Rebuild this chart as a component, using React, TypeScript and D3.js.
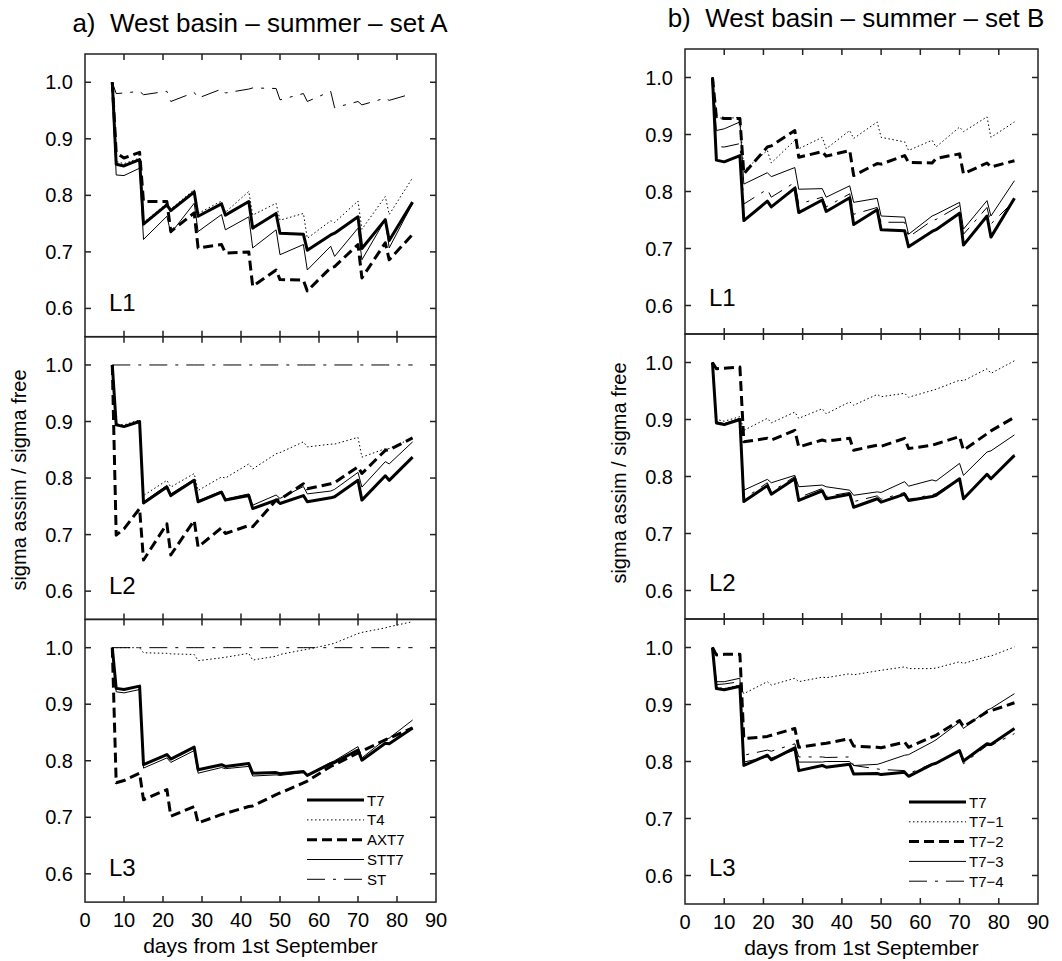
import React from "react";
import * as d3 from "d3";

// ---------------- DATA ----------------
const DAYS = [7, 8, 10, 14, 15, 21, 22, 28, 29, 35, 36, 42, 43, 49, 50, 56, 57, 63, 64, 70, 71, 77, 78, 84];
const X_TICKS = [0, 10, 20, 30, 40, 50, 60, 70, 80, 90];
const Y_TICKS = [0.6, 0.7, 0.8, 0.9, 1.0];
const LEVELS = ["L1", "L2", "L3"];

// shared reference run (T7) for each level
const T7_L1 = [1.0, 0.855, 0.852, 0.863, 0.749, 0.783, 0.773, 0.806, 0.763, 0.785, 0.765, 0.789, 0.742, 0.768, 0.733, 0.731, 0.703, 0.73, 0.733, 0.762, 0.706, 0.757, 0.72, 0.788];
const T7_L2 = [1.0, 0.894, 0.891, 0.9, 0.756, 0.784, 0.769, 0.796, 0.758, 0.775, 0.761, 0.769, 0.746, 0.761, 0.755, 0.769, 0.758, 0.765, 0.767, 0.796, 0.761, 0.804, 0.796, 0.837];
const T7_L3 = [1.0, 0.928, 0.926, 0.932, 0.793, 0.811, 0.803, 0.824, 0.784, 0.793, 0.79, 0.795, 0.778, 0.779, 0.777, 0.781, 0.774, 0.795, 0.797, 0.819, 0.801, 0.831, 0.83, 0.858];

// set A
const T4_L1 = [1.0, 0.86, 0.856, 0.866, 0.752, 0.786, 0.776, 0.81, 0.768, 0.79, 0.77, 0.807, 0.765, 0.786, 0.756, 0.768, 0.724, 0.755, 0.752, 0.79, 0.74, 0.798, 0.766, 0.831];
const T4_L2 = [1.0, 0.896, 0.894, 0.903, 0.769, 0.796, 0.784, 0.808, 0.778, 0.802, 0.8, 0.825, 0.816, 0.843, 0.845, 0.864, 0.855, 0.86, 0.86, 0.872, 0.837, 0.852, 0.852, 0.871];
const T4_L3 = [1.0, 1.0, 1.0, 1.0, 0.991, 0.99, 0.989, 0.988, 0.977, 0.982, 0.983, 0.99, 0.978, 0.985, 0.988, 0.996, 0.997, 1.006, 1.008, 1.025, 1.027, 1.035, 1.037, 1.046];
const AXT7_L1 = [1.0, 0.875, 0.866, 0.876, 0.789, 0.789, 0.736, 0.769, 0.707, 0.713, 0.698, 0.7, 0.639, 0.668, 0.651, 0.65, 0.631, 0.672, 0.674, 0.713, 0.654, 0.716, 0.686, 0.731];
const AXT7_L2 = [1.0, 0.699, 0.71, 0.746, 0.655, 0.719, 0.664, 0.725, 0.678, 0.712, 0.702, 0.716, 0.714, 0.761, 0.762, 0.79, 0.781, 0.79, 0.792, 0.82, 0.808, 0.849, 0.85, 0.871];
const AXT7_L3 = [1.0, 0.761, 0.765, 0.778, 0.731, 0.749, 0.702, 0.719, 0.69, 0.705, 0.707, 0.719, 0.72, 0.74, 0.743, 0.761, 0.764, 0.79, 0.793, 0.814, 0.817, 0.837, 0.84, 0.858];
const STT7_L1 = [1.0, 0.836, 0.835, 0.848, 0.722, 0.763, 0.733, 0.786, 0.736, 0.766, 0.739, 0.762, 0.707, 0.739, 0.695, 0.713, 0.668, 0.71, 0.692, 0.742, 0.686, 0.757, 0.707, 0.786];
const STT7_L2 = [1.0, 0.895, 0.892, 0.901, 0.758, 0.787, 0.772, 0.798, 0.76, 0.777, 0.763, 0.772, 0.752, 0.77, 0.764, 0.785, 0.772, 0.777, 0.78, 0.81, 0.784, 0.829, 0.825, 0.864];
const STT7_L3 = [1.0, 0.922, 0.92, 0.926, 0.787, 0.805, 0.797, 0.818, 0.778, 0.788, 0.786, 0.79, 0.773, 0.775, 0.774, 0.779, 0.775, 0.797, 0.8, 0.825, 0.805, 0.838, 0.84, 0.872];
const ST_L1 = [1.0, 0.98, 0.981, 0.984, 0.978, 0.984, 0.966, 0.982, 0.972, 0.988, 0.981, 0.988, 0.99, 0.989, 0.969, 0.98, 0.966, 0.984, 0.955, 0.966, 0.96, 0.972, 0.968, 0.98];
const ST_L2 = [1.0, 1.0, 1.0, 1.0, 1.0, 1.0, 1.0, 1.0, 1.0, 1.0, 1.0, 1.0, 1.0, 1.0, 1.0, 1.0, 1.0, 1.0, 1.0, 1.0, 1.0, 1.0, 1.0, 1.0];
const ST_L3 = [1.0, 1.0, 1.0, 1.0, 1.0, 1.0, 1.0, 1.0, 1.0, 1.0, 1.0, 1.0, 1.0, 1.0, 1.0, 1.0, 1.0, 1.0, 1.0, 1.0, 1.0, 1.0, 1.0, 1.0];

// set B
const T71_L1 = [1.0, 0.93, 0.928, 0.93, 0.837, 0.872, 0.85, 0.89, 0.875, 0.895, 0.875, 0.907, 0.893, 0.922, 0.895, 0.887, 0.872, 0.89, 0.878, 0.913, 0.905, 0.931, 0.895, 0.922];
const T71_L2 = [1.0, 0.9, 0.897, 0.905, 0.881, 0.902, 0.894, 0.913, 0.902, 0.919, 0.91, 0.931, 0.925, 0.944, 0.94, 0.946, 0.939, 0.951, 0.953, 0.969, 0.968, 0.989, 0.981, 1.003];
const T71_L3 = [1.0, 0.93, 0.928, 0.934, 0.919, 0.94, 0.934, 0.946, 0.94, 0.948, 0.947, 0.954, 0.952, 0.959, 0.96, 0.966, 0.963, 0.963, 0.964, 0.975, 0.972, 0.984, 0.985, 1.001];
const T72_L1 = [1.0, 0.931, 0.928, 0.928, 0.831, 0.878, 0.88, 0.907, 0.86, 0.87, 0.862, 0.872, 0.828, 0.849, 0.848, 0.863, 0.851, 0.85, 0.858, 0.866, 0.831, 0.85, 0.843, 0.854];
const T72_L2 = [1.0, 0.989, 0.99, 0.992, 0.861, 0.867, 0.864, 0.881, 0.852, 0.864, 0.862, 0.867, 0.846, 0.855, 0.853, 0.867, 0.849, 0.855, 0.857, 0.87, 0.846, 0.875, 0.88, 0.904];
const T72_L3 = [1.0, 0.987, 0.988, 0.988, 0.84, 0.844, 0.846, 0.858, 0.825, 0.831, 0.832, 0.84, 0.827, 0.825, 0.824, 0.834, 0.825, 0.843, 0.846, 0.872, 0.861, 0.887, 0.889, 0.903];
const T73_L1 = [1.0, 0.907, 0.91, 0.922, 0.813, 0.833, 0.826, 0.842, 0.804, 0.805, 0.79, 0.81, 0.781, 0.788, 0.757, 0.755, 0.725, 0.757, 0.76, 0.781, 0.734, 0.784, 0.757, 0.819];
const T73_L2 = [1.0, 0.896, 0.893, 0.902, 0.776, 0.795, 0.789, 0.802, 0.782, 0.785, 0.782, 0.776, 0.767, 0.773, 0.772, 0.791, 0.783, 0.794, 0.792, 0.823, 0.802, 0.843, 0.845, 0.873];
const T73_L3 = [1.0, 0.94, 0.94, 0.946, 0.799, 0.808, 0.806, 0.82, 0.799, 0.799, 0.8, 0.8, 0.793, 0.795, 0.797, 0.811, 0.812, 0.834, 0.838, 0.869, 0.858, 0.89, 0.893, 0.919];
const T74_L1 = [1.0, 0.879, 0.878, 0.884, 0.778, 0.804, 0.79, 0.816, 0.778, 0.79, 0.773, 0.796, 0.76, 0.772, 0.746, 0.746, 0.72, 0.749, 0.751, 0.775, 0.725, 0.772, 0.743, 0.784];
const T74_L2 = [1.0, 0.895, 0.892, 0.901, 0.761, 0.789, 0.773, 0.8, 0.763, 0.779, 0.765, 0.772, 0.756, 0.766, 0.76, 0.772, 0.76, 0.768, 0.77, 0.797, 0.762, 0.805, 0.797, 0.838];
const T74_L3 = [1.0, 0.935, 0.936, 0.94, 0.811, 0.82, 0.818, 0.831, 0.808, 0.808, 0.807, 0.808, 0.793, 0.787, 0.786, 0.784, 0.779, 0.796, 0.797, 0.817, 0.796, 0.828, 0.828, 0.849];

const NAMES_A = ["T7", "T4", "AXT7", "STT7", "ST"];
const NAMES_B = ["T7", "T7\u22121", "T7\u22122", "T7\u22123", "T7\u22124"];

// ---------------- STYLES ----------------
const STYLES = [
  { width: 3, dash: "none" },
  { width: 1, dash: "1.5,2.5" },
  { width: 3, dash: "10,5" },
  { width: 1, dash: "none" },
  { width: 1, dash: "18,8,3,8" },
];

const FONT = "'Liberation Sans', Arial, Helvetica, sans-serif";

type PanelDef = {
  title: string;
  names: string[];
  levels: number[][][]; // [level][series][values]
  left: number;
  right: number;
  top: number;
  panelH: number;
  titleX: number;
  titleY: number;
  yLabelX: number;
  yLabelY: number;
};

const PANELS: PanelDef[] = [
  {
    title: "a)  West basin \u2013 summer \u2013 set A",
    names: NAMES_A,
    levels: [
      [T7_L1, T4_L1, AXT7_L1, STT7_L1, ST_L1],
      [T7_L2, T4_L2, AXT7_L2, STT7_L2, ST_L2],
      [T7_L3, T4_L3, AXT7_L3, STT7_L3, ST_L3],
    ],
    left: 85,
    right: 436,
    top: 54,
    panelH: 282.7,
    titleX: 260,
    titleY: 32,
    yLabelX: 26,
    yLabelY: 480,
  },
  {
    title: "b)  West basin \u2013 summer \u2013 set B",
    names: NAMES_B,
    levels: [
      [T7_L1, T71_L1, T72_L1, T73_L1, T74_L1],
      [T7_L2, T71_L2, T72_L2, T73_L2, T74_L2],
      [T7_L3, T71_L3, T72_L3, T73_L3, T74_L3],
    ],
    left: 685,
    right: 1038,
    top: 49,
    panelH: 285,
    titleX: 856,
    titleY: 27,
    yLabelX: 626,
    yLabelY: 473,
  },
];

function Column({ p }: { p: PanelDef }) {
  const x = d3.scaleLinear().domain([0, 90]).range([p.left, p.right]);
  const bottom = p.top + 3 * p.panelH;
  const tickLen = 6;
  return (
    <g>
      <text
        x={p.titleX}
        y={p.titleY}
        textAnchor="middle"
        fontSize={26}
        fontFamily={FONT}
        style={{ whiteSpace: "pre" }}
        xmlSpace="preserve"
      >
        {p.title}
      </text>
      <text
        transform={`translate(${p.yLabelX},${p.yLabelY}) rotate(-90)`}
        textAnchor="middle"
        fontSize={20}
        fontFamily={FONT}
      >
        sigma assim / sigma free
      </text>
      {LEVELS.map((lvl, li) => {
        const t = p.top + li * p.panelH;
        const b = t + p.panelH;
        const y = d3.scaleLinear().domain([0.55, 1.05]).range([b, t]);
        const line = d3
          .line<number>()
          .x((_, i) => x(DAYS[i]))
          .y((v) => y(v));
        const series = p.levels[li];
        return (
          <g key={lvl}>
            <defs>
              <clipPath id={`clip-${p.left}-${li}`}>
                <rect x={p.left} y={t} width={p.right - p.left} height={p.panelH} />
              </clipPath>
            </defs>
            <g clipPath={`url(#clip-${p.left}-${li})`}>
              {series
                .map((vals, si) => ({ vals, si }))
                .reverse()
                .map(({ vals, si }) => (
                  <path
                    key={si}
                    d={line(vals) || ""}
                    fill="none"
                    stroke="#000"
                    strokeWidth={STYLES[si].width}
                    strokeDasharray={STYLES[si].dash}
                    strokeLinejoin="round"
                  />
                ))}
            </g>
            {/* frame */}
            <rect x={p.left} y={t} width={p.right - p.left} height={p.panelH} fill="none" stroke="#222" strokeWidth={1.5} />
            {/* y ticks */}
            {Y_TICKS.map((v) => (
              <g key={v}>
                <line x1={p.left} x2={p.left + tickLen} y1={y(v)} y2={y(v)} stroke="#222" strokeWidth={1.5} />
                <line x1={p.right} x2={p.right - tickLen} y1={y(v)} y2={y(v)} stroke="#222" strokeWidth={1.5} />
                <text x={p.left - 12} y={y(v) + 7} textAnchor="end" fontSize={20} fontFamily={FONT}>
                  {v.toFixed(1)}
                </text>
              </g>
            ))}
            {/* x ticks */}
            {X_TICKS.filter((d) => d > 0 && d < 90).map((d) => (
              <g key={d}>
                <line x1={x(d)} x2={x(d)} y1={t} y2={t + tickLen} stroke="#222" strokeWidth={1.5} />
                <line x1={x(d)} x2={x(d)} y1={b} y2={b - tickLen} stroke="#222" strokeWidth={1.5} />
              </g>
            ))}
            <text x={p.left + 24} y={t + 257} fontSize={24} fontFamily={FONT}>
              {lvl}
            </text>
          </g>
        );
      })}
      {/* x tick labels */}
      {X_TICKS.map((d) => (
        <text key={d} x={x(d)} y={bottom + 25} textAnchor="middle" fontSize={20} fontFamily={FONT}>
          {d}
        </text>
      ))}
      <text x={(p.left + p.right) / 2} y={bottom + 51} textAnchor="middle" fontSize={21} fontFamily={FONT}>
        days from 1st September
      </text>
      {/* legend */}
      {p.names.map((n, i) => {
        const lx = p.right - 129;
        const ly = bottom - 102 + i * 19.8;
        return (
          <g key={n}>
            <line
              x1={lx}
              x2={lx + 57}
              y1={ly}
              y2={ly}
              stroke="#000"
              strokeWidth={STYLES[i].width}
              strokeDasharray={STYLES[i].dash}
            />
            <text x={lx + 60} y={ly + 5.5} fontSize={15} fontFamily={FONT}>
              {n}
            </text>
          </g>
        );
      })}
    </g>
  );
}

export default function App() {
  return (
    <svg
      width={1062}
      height={961}
      style={{ position: "absolute", left: 0, top: 0, background: "#fff" }}
    >
      <rect width={1062} height={961} fill="#fff" />
      {PANELS.map((p) => (
        <Column key={p.title} p={p} />
      ))}
    </svg>
  );
}
